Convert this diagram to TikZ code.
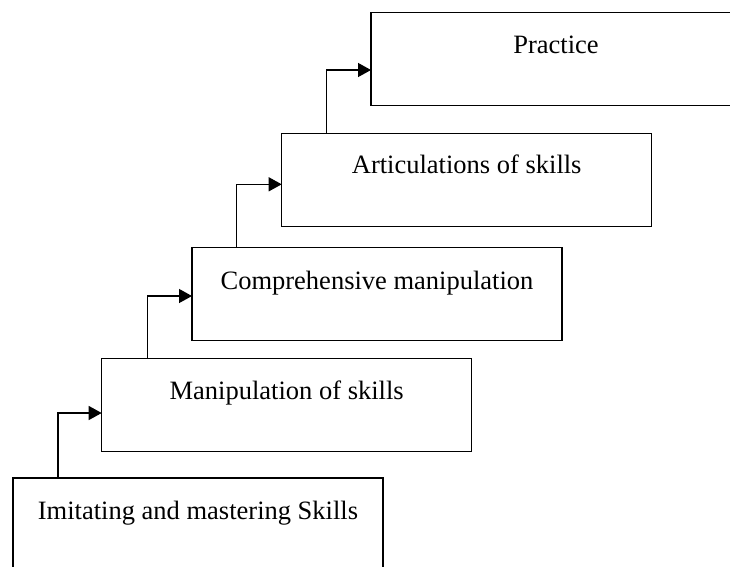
\documentclass[tikz,border=0pt]{standalone}
\usepackage{fontspec}
\setmainfont{Liberation Serif}
\usetikzlibrary{arrows.meta}
\begin{document}
\begin{tikzpicture}[x=1pt,y=1pt,
  stepbox/.style={draw=black, line width=1.5pt, minimum width=370pt, minimum height=93pt, anchor=north west, inner sep=0pt, outer sep=0pt},
  lbl/.style={anchor=base, font=\fontsize{26.5}{30}\selectfont, inner sep=0pt},
  arr/.style={draw=black, line width=1.3pt, -{Triangle[length=13pt,width=14pt]}}]
\useasboundingbox (0,0) rectangle (730,-566);
\clip (0,0) rectangle (730,-566);
\node[stepbox] (b1) at (13,-478) {};
\node[stepbox] (b2) at (101.7,-358.3) {};
\node[stepbox] (b3) at (192,-247.5) {};
\node[stepbox] (b4) at (281.7,-133.3) {};
\node[stepbox] (b5) at (371,-12.5) {};
\node[lbl] (t1) at ([yshift=-41.3pt]b1.north) {Imitating and mastering Skills};
\node[lbl] (t2) at ([yshift=-41pt]b2.north) {Manipulation of skills};
\node[lbl] (t3) at ([yshift=-41.8pt]b3.north) {Comprehensive manipulation};
\node[lbl] (t4) at ([yshift=-40pt]b4.north) {Articulations of skills};
\node[lbl] (t5) at ([yshift=-40.8pt]b5.north) {Practice};
\draw[arr] ([xshift=45pt]b1.north west) |- ([yshift=-54.7pt]b2.north west);
\draw[arr] ([xshift=45.6pt]b2.north west) |- ([yshift=-48.5pt]b3.north west);
\draw[arr] ([xshift=44.8pt]b3.north west) |- ([yshift=-51pt]b4.north west);
\draw[arr] ([xshift=44.6pt]b4.north west) |- ([yshift=-57.5pt]b5.north west);
\end{tikzpicture}
\end{document}
